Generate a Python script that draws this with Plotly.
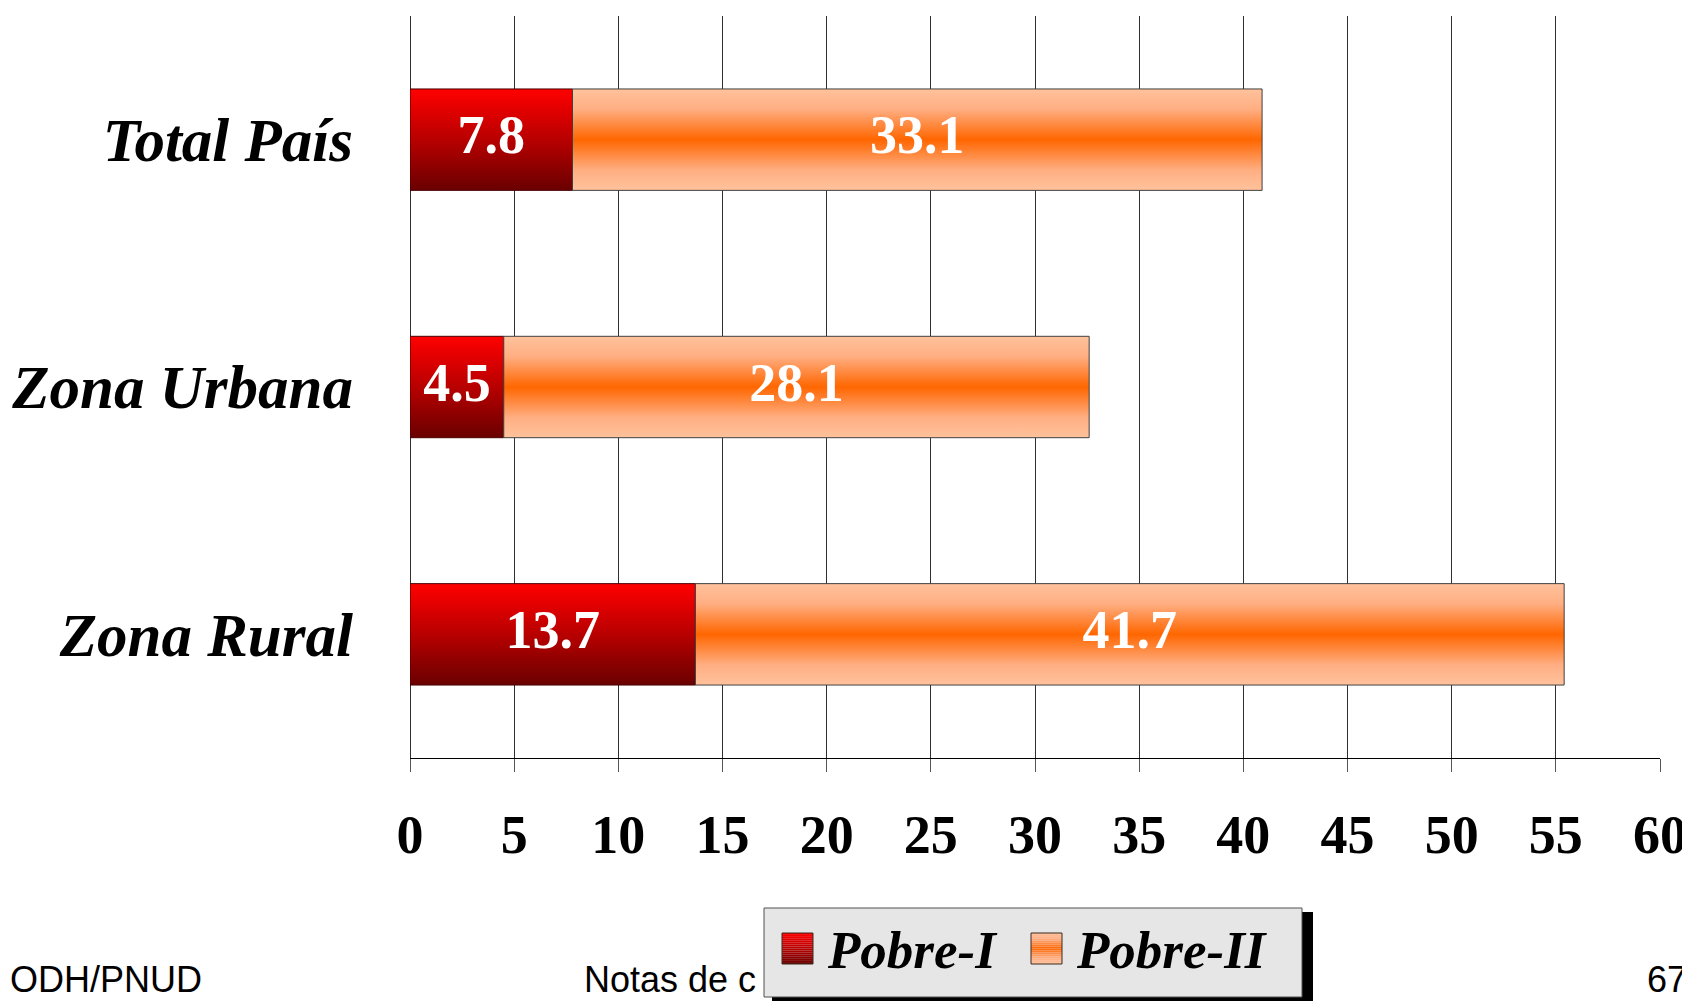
import plotly.graph_objects as go

# ---- data ----
categories = ["Total País", "Zona Urbana", "Zona Rural"]
pobre_1 = [7.8, 4.5, 13.7]
pobre_2 = [33.1, 28.1, 41.7]
series_names = ["Pobre-I", "Pobre-II"]
x_ticks = list(range(0, 61, 5))

# ---- geometry / style ----
W, H = 1690, 1002
OFF = 8  # page body margin in the browser
# plot area wanted on screen: x 410..1660, y 16..758
ML, MT = 410 - OFF, 16 - OFF
MR = W - (1660 - OFF)
MB = H - (758 - OFF)
PW, PH = W - ML - MR, H - MT - MB
BAR_HALF = 0.205
SERIF = "Liberation Serif"
SANS = "Liberation Sans"

red_scale = [[0, "#6A0000"], [0.5, "#B80000"], [1, "#FF0000"]]
orange_scale = [[0, "#FFC29C"], [0.2, "#FFAE82"], [0.5, "#FF6600"],
                [0.8, "#FFAE82"], [1, "#FFC29C"]]


def px_x(p):
    """screen pixel -> paper x"""
    return (p - OFF - ML) / PW


def px_y(p):
    """screen pixel -> paper y"""
    return (H - MB - (p - OFF)) / PH


def hex2rgb(h):
    h = h.lstrip("#")
    return [int(h[i:i + 2], 16) for i in (0, 2, 4)]


def scale_color(scale, t):
    for (t0, c0), (t1, c1) in zip(scale[:-1], scale[1:]):
        if t0 <= t <= t1:
            f = 0 if t1 == t0 else (t - t0) / (t1 - t0)
            a, b = hex2rgb(c0), hex2rgb(c1)
            return "rgb(%d,%d,%d)" % tuple(round(a[k] + (b[k] - a[k]) * f) for k in range(3))
    return scale[-1][1]


def flip(scale):
    return [[1 - p, c] for p, c in reversed(scale)]


n = len(categories)
ypos = [n - 1 - i for i in range(n)]

fig = go.Figure()

series = [(pobre_1, red_scale, "#4A0000"), (pobre_2, orange_scale, "#404040")]
for s_idx, (vals, scale, lcol) in enumerate(series):
    for i, v in enumerate(vals):
        base = sum(ser[0][i] for ser in series[:s_idx])
        y0, y1 = ypos[i] - BAR_HALF, ypos[i] + BAR_HALF
        fig.add_trace(go.Scatter(
            x=[base, base + v, base + v, base, base],
            y=[y0, y0, y1, y1, y0],
            mode="lines", fill="toself",
            line=dict(color=lcol, width=1),
            fillgradient=dict(type="vertical", colorscale=scale),
            hoverinfo="skip", showlegend=False,
        ))

# value labels
for s_idx, (vals, _, _) in enumerate(series):
    mids = []
    for i, v in enumerate(vals):
        base = sum(ser[0][i] for ser in series[:s_idx])
        mids.append(base + v / 2)
    fig.add_trace(go.Scatter(
        x=mids, y=ypos, mode="text",
        text=[f"{v:.1f}" for v in vals],
        textposition="middle center",
        textfont=dict(family=SERIF, size=54, color="white", weight="bold"),
        hoverinfo="skip", showlegend=False,
    ))

# legend entries (text from the real legend; swatches drawn as shapes below)
for name in series_names:
    fig.add_trace(go.Scatter(
        x=[None], y=[None], mode="markers", name=name,
        marker=dict(symbol="square", size=16, color="rgba(0,0,0,0)",
                    line=dict(width=0)),
    ))

# legend box: shadow, background, border
LG_L, LG_T, LG_R, LG_B = 764, 908, 1302, 997
fig.add_shape(type="rect", xref="paper", yref="paper",
              x0=px_x(LG_L + 8), x1=px_x(LG_R + 11),
              y0=px_y(LG_B + 4), y1=px_y(LG_T + 4),
              fillcolor="black", line=dict(width=0), layer="above")
fig.add_shape(type="rect", xref="paper", yref="paper",
              x0=px_x(LG_L), x1=px_x(LG_R), y0=px_y(LG_B), y1=px_y(LG_T),
              fillcolor="#E6E6E6", line=dict(color="#505050", width=1),
              layer="above")

# legend swatches with gradient bands (scale position 0 = top of swatch)
SW = 31
swatches = [(782, 933, flip(red_scale)), (1031, 933, orange_scale)]
NB = 16
for sx, sy, scale in swatches:
    for k in range(NB):
        t = (k + 0.5) / NB
        col = scale_color(scale, t)
        fig.add_shape(type="rect", xref="paper", yref="paper",
                      x0=px_x(sx), x1=px_x(sx + SW),
                      y0=px_y(sy + SW * (k + 1) / NB), y1=px_y(sy + SW * k / NB),
                      fillcolor=col, line=dict(width=0), layer="above")
    fig.add_shape(type="rect", xref="paper", yref="paper",
                  x0=px_x(sx), x1=px_x(sx + SW), y0=px_y(sy + SW), y1=px_y(sy),
                  fillcolor="rgba(0,0,0,0)", line=dict(color="#3A2A20", width=1),
                  layer="above")

# footer texts
footer_font = dict(family=SANS, size=36, color="black")
FOOT_B = 1002
fig.add_annotation(text="ODH/PNUD", xref="paper", yref="paper",
                   x=px_x(8), y=px_y(FOOT_B), xanchor="left", yanchor="bottom",
                   showarrow=False, font=footer_font)
fig.add_annotation(text="Notas de c", xref="paper", yref="paper",
                   x=px_x(582), y=px_y(FOOT_B), xanchor="left", yanchor="bottom",
                   showarrow=False, font=footer_font)
fig.add_annotation(text="67", xref="paper", yref="paper",
                   x=px_x(1689), y=px_y(FOOT_B), xanchor="right", yanchor="bottom",
                   showarrow=False, font=footer_font)

fig.update_layout(
    width=W, height=H,
    margin=dict(l=ML, r=MR, t=MT, b=MB, pad=0, autoexpand=False),
    paper_bgcolor="white", plot_bgcolor="white",
    xaxis=dict(
        range=[0, 60], tickvals=x_ticks, ticktext=[str(t) for t in x_ticks],
        showgrid=True, gridcolor="#303030", gridwidth=1,
        zeroline=True, zerolinecolor="#303030", zerolinewidth=1,
        showline=True, linecolor="black", linewidth=1,
        ticks="outside", ticklen=13, tickcolor="#555", tickwidth=1,
        ticklabelstandoff=16, automargin=False,
        tickfont=dict(family=SERIF, size=54, color="black", weight="bold"),
        fixedrange=True,
    ),
    yaxis=dict(
        range=[-0.5, n - 0.5], tickvals=ypos, ticktext=categories,
        showgrid=False, zeroline=False, showline=False, ticks="",
        ticklabelstandoff=56, automargin=False,
        tickfont=dict(family=SERIF, size=61, color="black",
                      weight="bold", style="italic"),
        fixedrange=True,
    ),
    showlegend=True,
    legend=dict(
        orientation="h", x=px_x(788), y=px_y(906),
        xanchor="left", yanchor="top",
        bgcolor="rgba(0,0,0,0)", borderwidth=0,
        font=dict(family=SERIF, size=53, color="black",
                  weight="bold", style="italic"),
        entrywidth=204, entrywidthmode="pixels",
        itemclick=False, itemdoubleclick=False,
    ),
)

fig.write_html("out.html")
